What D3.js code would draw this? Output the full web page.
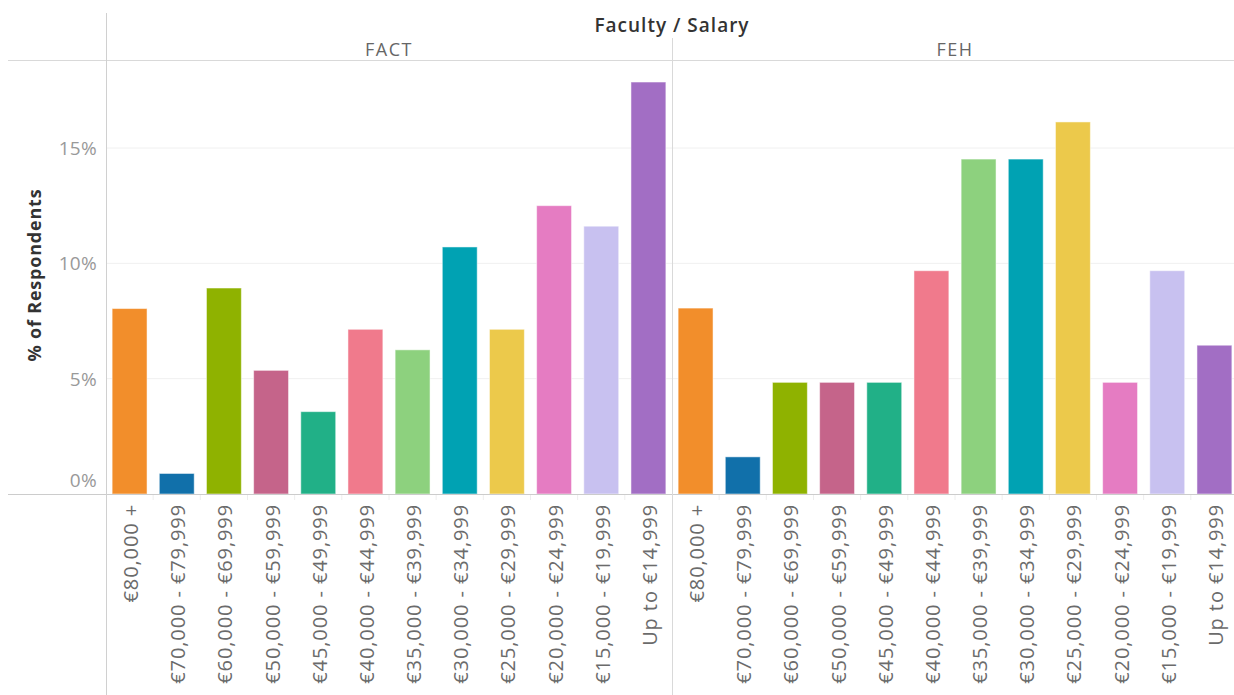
<!DOCTYPE html>
<html><head><meta charset="utf-8">
<script src="https://cdn.jsdelivr.net/npm/d3@7"></script>
<style>body{margin:0;background:#fff;} svg{display:block;font-family:"Open Sans","Noto Sans",sans-serif;}</style>
</head><body>
<svg id="c" width="1234" height="695"></svg>
<script>
const categories = ["€80,000 +","€70,000 - €79,999","€60,000 - €69,999","€50,000 - €59,999","€45,000 - €49,999","€40,000 - €44,999","€35,000 - €39,999","€30,000 - €34,999","€25,000 - €29,999","€20,000 - €24,999","€15,000 - €19,999","Up to €14,999"];
const faculties = ["FACT","FEH"];
const factValues = [8.04,0.89,8.93,5.36,3.57,7.14,6.25,10.71,7.14,12.50,11.61,17.86];
const fehValues = [8.06,1.61,4.84,4.84,4.84,9.68,14.52,14.52,16.13,4.84,9.68,6.45];
const colors = ["#F28E2B","#1170AA","#8FB200","#C5648A","#21B087","#F07A8C","#8DD17E","#00A2B3","#ECC94B","#E57CC2","#C8C1F0","#A26EC4"];
const yTicks = [0,5,10,15];

const svg = d3.select("#c");
const baseY = 494, plotLeft = 106, panelW = 566;
const y = d3.scaleLinear().domain([0,15]).range([baseY, 148]);
const fac = d3.scaleBand().domain(faculties).range([plotLeft, plotLeft + panelW*2]);
const x = d3.scaleBand().domain(categories).range([0, panelW]).paddingInner(0.26).paddingOuter(0.13);
const color = d3.scaleOrdinal().domain(categories).range(colors);
const data = {FACT: factValues, FEH: fehValues};

// gridlines
svg.append("g").selectAll("line").data(yTicks.filter(t=>t>0)).join("line")
  .attr("x1", plotLeft).attr("x2", 1234).attr("y1", d=>y(d)).attr("y2", d=>y(d))
  .attr("stroke","#f0f0f0").attr("stroke-width",1);

// bars
faculties.forEach(f=>{
  const g = svg.append("g").attr("transform",`translate(${fac(f)},0)`);
  g.selectAll("rect").data(data[f]).join("rect")
    .attr("x",(d,i)=>x(categories[i])).attr("width",x.bandwidth())
    .attr("y",d=>y(d)).attr("height",d=>baseY-y(d))
    .attr("fill",(d,i)=>color(categories[i]))
    .attr("stroke","rgba(255,255,255,0.5)").attr("stroke-width",1);
  // x labels
  g.selectAll("text.xl").data(categories).join("text").attr("class","xl")
    .attr("transform",d=>`translate(${x(d)+x.bandwidth()/2+8.5},504) rotate(-90)`)
    .attr("text-anchor","end").attr("font-size",20).attr("letter-spacing",0.9).attr("fill","#6b6b6b").text(d=>d);
  // tiny separators
  g.selectAll("line.sep").data(categories.slice(1)).join("line").attr("class","sep")
    .attr("x1",d=>x(d)-x.step()*0.13).attr("x2",d=>x(d)-x.step()*0.13)
    .attr("y1",baseY).attr("y2",baseY+6).attr("stroke","#eee");
  // facet header
  svg.append("text").attr("x",fac(f)+panelW/2).attr("y",56).attr("text-anchor","middle")
    .attr("font-size",18).attr("letter-spacing",1.5).attr("fill","#666").text(f);
});

// structure lines
svg.append("line").attr("x1",8).attr("x2",1234).attr("y1",60.5).attr("y2",60.5).attr("stroke","#d9d9d9");
svg.append("line").attr("x1",8).attr("x2",1234).attr("y1",baseY+0.5).attr("y2",baseY+0.5).attr("stroke","#ccc");
svg.append("line").attr("x1",plotLeft+0.5).attr("x2",plotLeft+0.5).attr("y1",13).attr("y2",695).attr("stroke","#d0d0d0");
svg.append("line").attr("x1",fac("FEH")+0.5).attr("x2",fac("FEH")+0.5).attr("y1",38).attr("y2",695).attr("stroke","#d9d9d9");

// y tick labels
svg.append("g").selectAll("text").data(yTicks).join("text")
  .attr("x",97).attr("y",d=> d===0 ? y(d)-7 : y(d)+7).attr("text-anchor","end")
  .attr("font-size",19).attr("letter-spacing",0.3).attr("fill","#999").text(d=>d+"%");

// y title
svg.append("text").attr("transform","translate(41,275) rotate(-90)").attr("text-anchor","middle")
  .attr("font-size",18).attr("font-weight","bold").attr("letter-spacing",0.8).attr("fill","#333").text("% of Respondents");

// title
svg.append("text").attr("x",plotLeft+panelW).attr("y",32).attr("text-anchor","middle")
  .attr("font-size",19).attr("font-weight",600).attr("letter-spacing",1).attr("fill","#333").text("Faculty / Salary");
</script>
</body></html>
